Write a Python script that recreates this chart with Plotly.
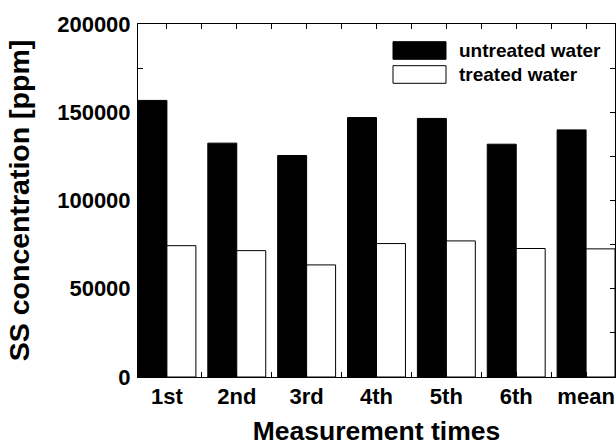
import plotly.graph_objects as go

categories = ["1st", "2nd", "3rd", "4th", "5th", "6th", "mean"]
untreated = [156700, 132500, 125500, 147000, 146500, 131900, 140000]
treated = [74400, 71600, 63500, 75600, 77100, 72800, 72600]
series_names = ["untreated water", "treated water"]
y_tickvals = [0, 50000, 100000, 150000, 200000]
y_ticktext = ["0", "50000", "100000", "150000", "200000"]

FONT = "Liberation Sans, Arial, Helvetica, sans-serif"
W, H = 616, 446
ML, MR, MT, MB = 138, 1, 24, 69
PW, PH = W - ML - MR, H - MT - MB

def px_x(px):
    return (px - ML) / PW

def px_y(py):
    return (H - MB - py) / PH

xs = list(range(len(categories)))

fig = go.Figure()
fig.add_trace(go.Bar(x=xs, y=untreated, name=series_names[0],
                     marker=dict(color="black", line=dict(color="black", width=1)),
                     showlegend=False))
fig.add_trace(go.Bar(x=xs, y=treated, name=series_names[1],
                     marker=dict(color="white", line=dict(color="black", width=1)),
                     showlegend=False))

# custom legend (large swatches like the reference)
swatches = [("black", 41.7, 59.3, 50.5), ("white", 65.7, 83.3, 74.5)]
for (col, top, bot, mid), name in zip(swatches, series_names):
    fig.add_shape(type="rect", xref="paper", yref="paper",
                  x0=px_x(393), x1=px_x(446), y0=px_y(bot), y1=px_y(top),
                  fillcolor=col, line=dict(color="black", width=1))
    fig.add_annotation(xref="paper", yref="paper", x=px_x(457), y=px_y(mid),
                       text=name, showarrow=False, xanchor="left", yanchor="middle",
                       font=dict(family=FONT, size=19, color="black", weight="bold"))

fig.update_layout(
    width=W, height=H,
    margin=dict(l=ML, r=MR, t=MT, b=MB),
    barmode="group", bargap=0.171, bargroupgap=0,
    plot_bgcolor="white", paper_bgcolor="white",
    font=dict(family=FONT, color="black", weight="bold"),
)
fig.update_xaxes(
    range=[-0.414, 6.414], automargin=False,
    tickmode="array", tickvals=xs, ticktext=categories,
    tickfont=dict(family=FONT, size=22, color="black", weight="bold"),
    ticks="inside", ticklen=5, tickcolor="black",
    minor=dict(dtick=0.5, tick0=0.5, ticks="inside", ticklen=5, tickcolor="black"),
    showline=True, linecolor="black", linewidth=1, mirror="ticks",
    showgrid=False, zeroline=False,
    title=dict(text="Measurement times", standoff=20,
               font=dict(family=FONT, size=26.5, color="black", weight="bold")),
)
fig.update_yaxes(
    range=[0, 200000], automargin=False,
    tickmode="array", tickvals=y_tickvals, ticktext=y_ticktext,
    tickfont=dict(family=FONT, size=22, color="black", weight="bold"),
    ticks="inside", ticklen=5, tickcolor="black", ticklabelstandoff=2,
    minor=dict(dtick=25000, tick0=0, ticks="inside", ticklen=5, tickcolor="black"),
    showline=True, linecolor="black", linewidth=1, mirror="ticks",
    showgrid=False, zeroline=False,
    title=dict(text="SS concentration [ppm]", standoff=19,
               font=dict(family=FONT, size=28.5, color="black", weight="bold")),
)

fig.write_html(
    "out.html",
    config={"displayModeBar": False},
    post_script="document.body.style.margin='0';document.body.style.overflow='hidden';",
)
